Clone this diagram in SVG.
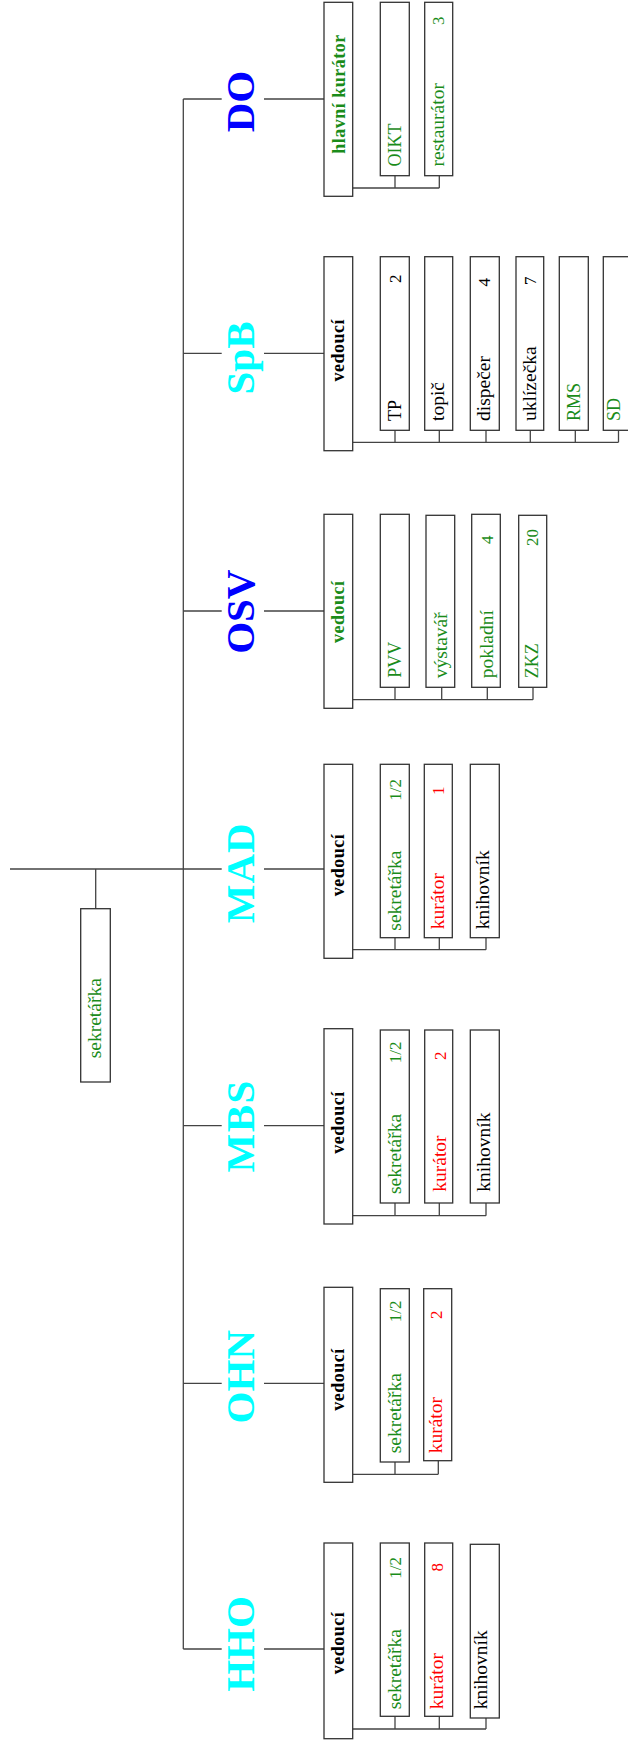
<svg xmlns="http://www.w3.org/2000/svg" width="628" height="1744" viewBox="0 0 628 1744">
<style>
  .bg{fill:#ffffff}
  .box{fill:#ffffff;stroke:#333333;stroke-width:1.3}
  .ln{fill:none;stroke:#444444;stroke-width:1.3}
  text{font-family:"Liberation Serif","Times New Roman",serif}
  .big{font-size:41px;font-weight:bold;text-anchor:middle}
  .hd{font-size:18px;font-weight:bold;text-anchor:middle;letter-spacing:0.5px}
  .lb{font-size:19.5px}
  .uc{font-size:18px}
  .num{font-size:17px;text-anchor:end}
  .blue{fill:#0000ff}
  .cyan{fill:#00ffff}
  .g{fill:#1a8c1a}
  .r{fill:#ff0000}
  .k{fill:#000000}
</style>
<rect class="bg" x="0" y="0" width="628" height="1744"/>

<g id="connectors">
  <path class="ln" d="M183.3 99 V1649"/>
  <path class="ln" d="M183.3 99 H221.7 M264 99 H324"/>
  <path class="ln" d="M183.3 353.3 H221.7 M264 353.3 H324"/>
  <path class="ln" d="M183.3 611 H221.7 M264 611 H324"/>
  <path class="ln" d="M10 869 H221.7 M264 869 H324"/>
  <path class="ln" d="M183.3 1125.7 H221.7 M264 1125.7 H324"/>
  <path class="ln" d="M183.3 1383.3 H221.7 M264 1383.3 H324"/>
  <path class="ln" d="M183.3 1649 H221.7 M264 1649 H324"/>
  <path class="ln" d="M95.7 869 V908.7"/>
  <path class="ln" d="M352.7 188 H439.3 M395 175.7 V188 M439.3 175.7 V188"/>
  <path class="ln" d="M352.7 442.3 H618.5 M395 430.3 V442.3 M439.3 430.3 V442.3 M486 430.3 V442.3 M530.3 430.3 V442.3 M575.3 430.3 V442.3 M618.5 430.3 V442.3"/>
  <path class="ln" d="M352.7 699.7 H533 M395 687.3 V699.7 M441.7 687.3 V699.7 M487.3 687.3 V699.7 M533 687.3 V699.7"/>
  <path class="ln" d="M352.7 949.7 H486 M395 937.7 V949.7 M439.3 937.7 V949.7 M486 937.7 V949.7"/>
  <path class="ln" d="M352.7 1215.7 H486 M395 1203 V1215.7 M439.3 1203 V1215.7 M486 1203 V1215.7"/>
  <path class="ln" d="M352.7 1474.3 H438.3 M395 1462 V1474.3 M438.3 1460.7 V1474.3"/>
  <path class="ln" d="M352.7 1729 H486 M395 1716.3 V1729 M439.3 1716.3 V1729 M486 1718 V1729"/>
</g>

<g id="sekretarka-top">
  <rect class="box" x="80.7" y="908.7" width="29.6" height="173.3"/>
  <text class="lb g" transform="translate(100.7,1058.3) rotate(-90)">sekretářka</text>
</g>

<!-- DO -->
<g id="DO">
  <text class="big blue" transform="translate(254,101.5) rotate(-90)">DO</text>
</g>
<g id="DO-vedouci">
  <rect class="box" x="324" y="2.3" width="28.7" height="194"/>
  <text class="hd g" transform="translate(344.5,94) rotate(-90)">hlavní kurátor</text>
</g>
<g id="DO-OIKT">
  <rect class="box" x="380.3" y="2.3" width="29" height="173.4"/>
  <text class="uc g" transform="translate(400.5,166.5) rotate(-90)">OIKT</text>
</g>
<g id="DO-restaurator">
  <rect class="box" x="424.7" y="2.3" width="28" height="173.4"/>
  <text class="lb g" transform="translate(444.4,166.5) rotate(-90)">restaurátor</text>
  <text class="num g" transform="translate(444.4,16.5) rotate(-90)">3</text>
</g>

<!-- SpB -->
<g id="SpB">
  <text class="big cyan" transform="translate(254,358) rotate(-90)">SpB</text>
</g>
<g id="SpB-vedouci">
  <rect class="box" x="324" y="256.7" width="28.7" height="194"/>
  <text class="hd k" transform="translate(343.5,350.3) rotate(-90)">vedoucí</text>
</g>
<g id="SpB-TP">
  <rect class="box" x="380.3" y="256.7" width="29" height="173.6"/>
  <text class="uc k" transform="translate(400.5,421) rotate(-90)">TP</text>
  <text class="num k" transform="translate(400.5,274.5) rotate(-90)">2</text>
</g>
<g id="SpB-topic">
  <rect class="box" x="424.7" y="256.7" width="28" height="173.6"/>
  <text class="lb k" transform="translate(444.4,421) rotate(-90)">topič</text>
</g>
<g id="SpB-dispecer">
  <rect class="box" x="470.3" y="256.7" width="29" height="173.6"/>
  <text class="lb k" transform="translate(490,421) rotate(-90)">dispečer</text>
  <text class="num k" transform="translate(490,278) rotate(-90)">4</text>
</g>
<g id="SpB-uklizecka">
  <rect class="box" x="516" y="256.7" width="27.7" height="173.6"/>
  <text class="lb k" transform="translate(535.5,421) rotate(-90)">uklízečka</text>
  <text class="num k" transform="translate(535.5,276.5) rotate(-90)">7</text>
</g>
<g id="SpB-RMS">
  <rect class="box" x="559.3" y="256.7" width="29" height="173.6"/>
  <text class="uc g" transform="translate(579.5,421) rotate(-90)">RMS</text>
</g>
<g id="SpB-SD">
  <rect class="box" x="603.3" y="256.7" width="30" height="173.6"/>
  <text class="uc g" transform="translate(619.5,421) rotate(-90)">SD</text>
</g>

<!-- OSV -->
<g id="OSV">
  <text class="big blue" transform="translate(254,611.7) rotate(-90)">OSV</text>
</g>
<g id="OSV-vedouci">
  <rect class="box" x="324" y="514.3" width="28.7" height="194"/>
  <text class="hd g" transform="translate(343.5,611.7) rotate(-90)">vedoucí</text>
</g>
<g id="OSV-PVV">
  <rect class="box" x="380.3" y="514.3" width="29" height="173"/>
  <text class="uc g" transform="translate(400.5,677.7) rotate(-90)">PVV</text>
</g>
<g id="OSV-vystavar">
  <rect class="box" x="426" y="515.3" width="28.7" height="172"/>
  <text class="lb g" transform="translate(446.5,678.3) rotate(-90)">výstavář</text>
</g>
<g id="OSV-pokladni">
  <rect class="box" x="471.7" y="514.3" width="28.6" height="173"/>
  <text class="lb g" transform="translate(492.5,678.3) rotate(-90)">pokladní</text>
  <text class="num g" transform="translate(492.5,535.5) rotate(-90)">4</text>
</g>
<g id="OSV-ZKZ">
  <rect class="box" x="518.7" y="515.3" width="28" height="172"/>
  <text class="uc g" transform="translate(538.3,678.3) rotate(-90)">ZKZ</text>
  <text class="num g" transform="translate(538.3,529) rotate(-90)">20</text>
</g>

<!-- MAD -->
<g id="MAD">
  <text class="big cyan" transform="translate(254,872.8) rotate(-90)" letter-spacing="1">MAD</text>
</g>
<g id="MAD-vedouci">
  <rect class="box" x="324" y="764.3" width="28.7" height="194"/>
  <text class="hd k" transform="translate(343.5,865) rotate(-90)">vedoucí</text>
</g>
<g id="MAD-sekretarka">
  <rect class="box" x="380.3" y="764.3" width="29" height="173.4"/>
  <text class="lb g" transform="translate(400.5,930.7) rotate(-90)">sekretářka</text>
  <text class="num g" transform="translate(400.5,779) rotate(-90)">1/2</text>
</g>
<g id="MAD-kurator">
  <rect class="box" x="424.3" y="764.3" width="28" height="173.4"/>
  <text class="lb r" transform="translate(444.3,929.3) rotate(-90)">kurátor</text>
  <text class="num r" transform="translate(444.3,786.6) rotate(-90)">1</text>
</g>
<g id="MAD-knihovnik">
  <rect class="box" x="470.3" y="764.3" width="29" height="173.4"/>
  <text class="lb k" transform="translate(489.3,929.3) rotate(-90)">knihovník</text>
</g>

<!-- MBS -->
<g id="MBS">
  <text class="big cyan" transform="translate(254,1125.8) rotate(-90)" letter-spacing="1.5">MBS</text>
</g>
<g id="MBS-vedouci">
  <rect class="box" x="324" y="1028.7" width="28.7" height="195.3"/>
  <text class="hd k" transform="translate(343.5,1122.5) rotate(-90)">vedoucí</text>
</g>
<g id="MBS-sekretarka">
  <rect class="box" x="380.3" y="1030" width="29" height="173"/>
  <text class="lb g" transform="translate(400.5,1194) rotate(-90)">sekretářka</text>
  <text class="num g" transform="translate(400.5,1041.5) rotate(-90)">1/2</text>
</g>
<g id="MBS-kurator">
  <rect class="box" x="424.7" y="1030" width="28" height="173"/>
  <text class="lb r" transform="translate(445.5,1191.7) rotate(-90)">kurátor</text>
  <text class="num r" transform="translate(445.5,1051.5) rotate(-90)">2</text>
</g>
<g id="MBS-knihovnik">
  <rect class="box" x="470.3" y="1030" width="29" height="173"/>
  <text class="lb k" transform="translate(490,1191.7) rotate(-90)">knihovník</text>
</g>

<!-- OHN -->
<g id="OHN">
  <text class="big cyan" transform="translate(254,1376.7) rotate(-90)">OHN</text>
</g>
<g id="OHN-vedouci">
  <rect class="box" x="324" y="1287.3" width="28.7" height="195"/>
  <text class="hd k" transform="translate(343.5,1379.5) rotate(-90)">vedoucí</text>
</g>
<g id="OHN-sekretarka">
  <rect class="box" x="380.3" y="1288.7" width="29" height="173.3"/>
  <text class="lb g" transform="translate(400.5,1453.3) rotate(-90)">sekretářka</text>
  <text class="num g" transform="translate(400.5,1300.5) rotate(-90)">1/2</text>
</g>
<g id="OHN-kurator">
  <rect class="box" x="423.7" y="1288.7" width="28" height="172"/>
  <text class="lb r" transform="translate(441.7,1453.3) rotate(-90)">kurátor</text>
  <text class="num r" transform="translate(441.7,1310.5) rotate(-90)">2</text>
</g>

<!-- HHO -->
<g id="HHO">
  <text class="big cyan" transform="translate(254,1644) rotate(-90)">HHO</text>
</g>
<g id="HHO-vedouci">
  <rect class="box" x="324" y="1543" width="28.7" height="195.7"/>
  <text class="hd k" transform="translate(343.5,1643) rotate(-90)">vedoucí</text>
</g>
<g id="HHO-sekretarka">
  <rect class="box" x="380.3" y="1543" width="29" height="173.3"/>
  <text class="lb g" transform="translate(400.5,1709.3) rotate(-90)">sekretářka</text>
  <text class="num g" transform="translate(400.5,1557) rotate(-90)">1/2</text>
</g>
<g id="HHO-kurator">
  <rect class="box" x="424.7" y="1543" width="28" height="173.3"/>
  <text class="lb r" transform="translate(443.3,1709.3) rotate(-90)">kurátor</text>
  <text class="num r" transform="translate(443.3,1563) rotate(-90)">8</text>
</g>
<g id="HHO-knihovnik">
  <rect class="box" x="470.3" y="1544.3" width="29" height="173.7"/>
  <text class="lb k" transform="translate(487.3,1709.3) rotate(-90)">knihovník</text>
</g>
</svg>
